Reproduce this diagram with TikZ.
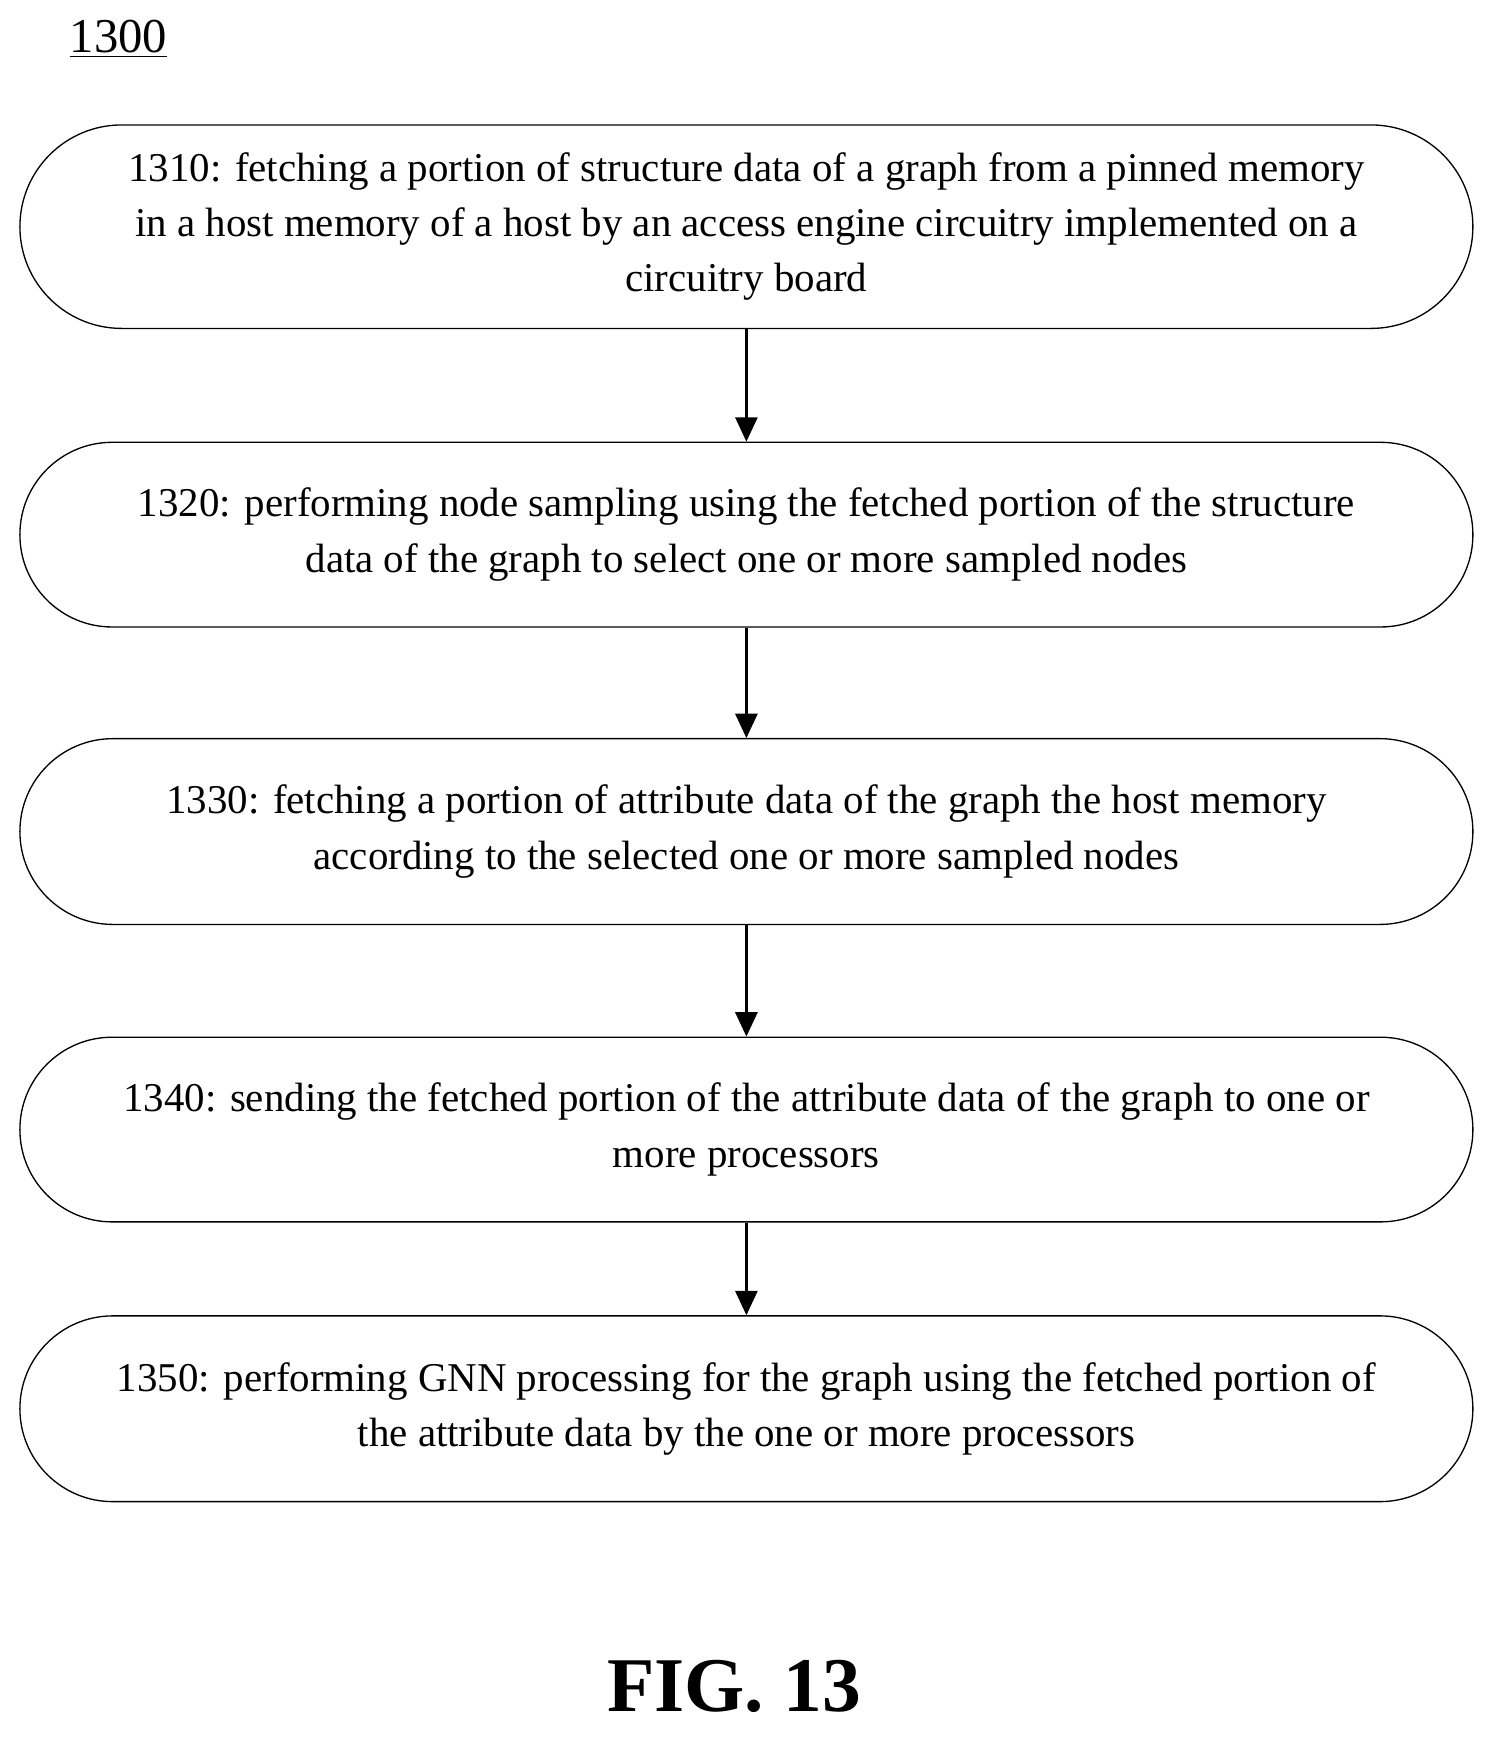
\documentclass[tikz,border=0pt]{standalone}
\usepackage{fontspec}
\setmainfont{Liberation Serif}
\usetikzlibrary{arrows.meta}
\begin{document}
\begin{tikzpicture}[x=0.5pt,y=-0.5pt,
 flowbox/.style={draw,line width=0.6pt,minimum width=657pt,align=center,font=\fontsize{18.5}{25}\selectfont,inner sep=0pt},
 arr/.style={-{Triangle[length=11pt,width=10pt]},line width=1.1pt}]
\useasboundingbox (0,0) rectangle (1360,1579);
\node[anchor=west,font=\fontsize{22}{24}\selectfont] (lbl) at (56,35) {\underline{1300}};
\node[flowbox,minimum height=92pt,rounded corners=46pt] (s1) at (675,205) {1310: fetching a portion of structure data of a graph from a pinned memory\\in a host memory of a host by an access engine circuitry implemented on a\\circuitry board};
\node[flowbox,minimum height=83.5pt,rounded corners=41.7pt] (s2) at (675,483.5) {1320: performing node sampling using the fetched portion of the structure\\data of the graph to select one or more sampled nodes};
\node[flowbox,minimum height=84pt,rounded corners=42pt] (s3) at (675,752) {1330: fetching a portion of attribute data of the graph the host memory\\according to the selected one or more sampled nodes};
\node[flowbox,minimum height=83.5pt,rounded corners=41.7pt] (s4) at (675,1021.5) {1340: sending the fetched portion of the attribute data of the graph to one or\\more processors};
\node[flowbox,minimum height=84pt,rounded corners=42pt] (s5) at (675,1274) {1350: performing GNN processing for the graph using the fetched portion of\\the attribute data by the one or more processors};
\draw[arr] (s1) -- (s2);
\draw[arr] (s2) -- (s3);
\draw[arr] (s3) -- (s4);
\draw[arr] (s4) -- (s5);
\node[font=\bfseries\fontsize{35}{40}\selectfont] (fig) at (664,1525) {FIG. 13};
\end{tikzpicture}
\end{document}
